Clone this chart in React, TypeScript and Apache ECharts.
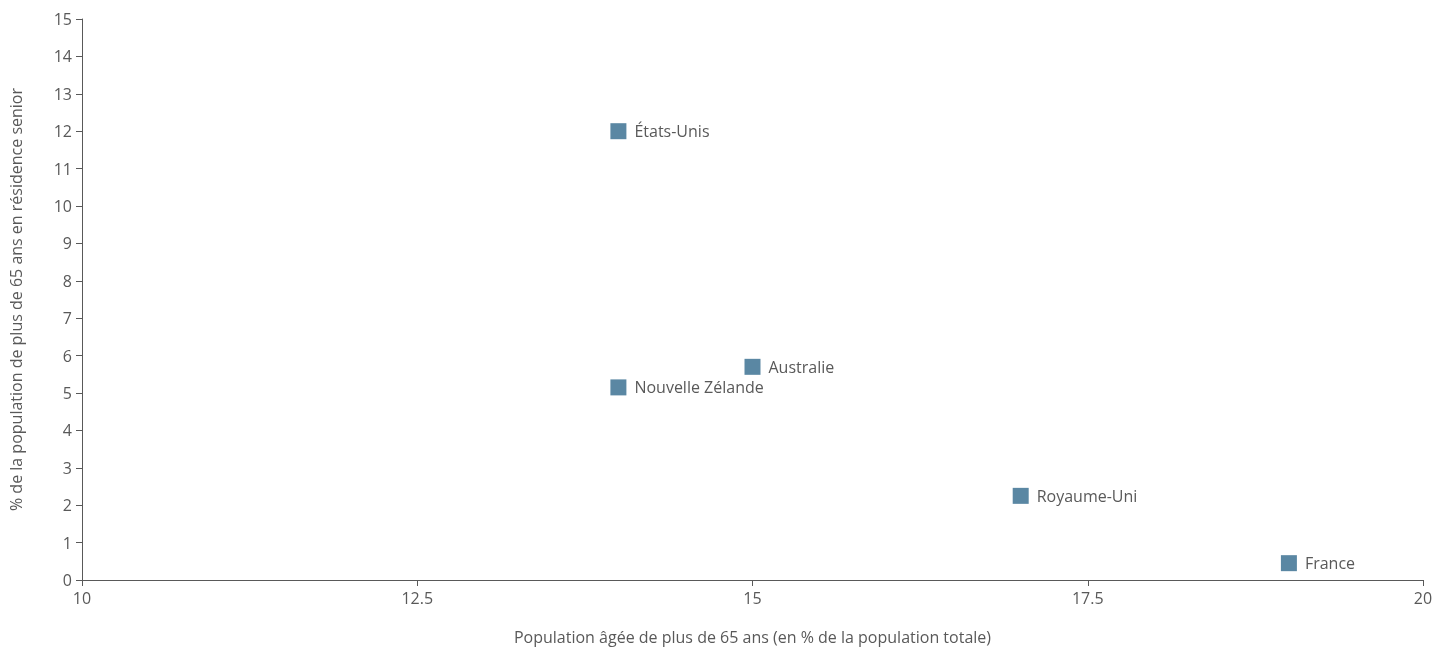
import React, { useEffect, useRef } from "react";
import * as echarts from "echarts";

const countries = ["États-Unis", "Australie", "Nouvelle Zélande", "Royaume-Uni", "France"];
const elderlyShare = [14.0, 15.0, 14.0, 17.0, 19.0];
const seniorResidence = [12.0, 5.7, 5.15, 2.25, 0.45];

const xTitle = "Population âgée de plus de 65 ans (en % de la population totale)";
const yTitle = "% de la population de plus de 65 ans en résidence senior";

export default function App() {
  const ref = useRef<HTMLDivElement>(null);
  useEffect(() => {
    if (!ref.current) return;
    const chart = echarts.init(ref.current, null, { renderer: "svg" });
    const font = "'Open Sans', 'Noto Sans', sans-serif";
    const textColor = "#595959";
    const axisColor = "#595959";
    chart.setOption({
      animation: false,
      grid: { left: 82, right: 25, top: 19, bottom: 70 },
      xAxis: {
        type: "value",
        min: 10,
        max: 20,
        interval: 2.5,
        name: xTitle,
        nameLocation: "middle",
        nameGap: 49,
        nameTextStyle: { color: textColor, fontSize: 16, fontFamily: font },
        axisLine: { lineStyle: { color: axisColor, width: 1 } },
        axisTick: { show: true, length: 6, lineStyle: { color: axisColor } },
        axisLabel: { color: textColor, fontSize: 16, fontFamily: font, margin: 10 },
        splitLine: { show: false },
      },
      yAxis: {
        type: "value",
        min: 0,
        max: 15,
        interval: 1,
        name: yTitle,
        nameLocation: "middle",
        nameGap: 58,
        nameRotate: 90,
        nameTextStyle: { color: textColor, fontSize: 16, fontFamily: font },
        axisLine: { show: true, lineStyle: { color: axisColor, width: 1 } },
        axisTick: { show: true, length: 6, lineStyle: { color: axisColor } },
        axisLabel: { color: textColor, fontSize: 16, fontFamily: font, margin: 10 },
        splitLine: { show: false },
      },
      series: [
        {
          type: "scatter",
          symbol: "rect",
          symbolSize: 16,
          itemStyle: { color: "#5a87a3", opacity: 1 },
          data: countries.map((c, i) => ({ name: c, value: [elderlyShare[i], seniorResidence[i]] })),
          label: {
            show: true,
            position: "right",
            distance: 8,
            formatter: (p: any) => p.name,
            color: textColor,
            fontSize: 16,
            fontFamily: font,
          },
        },
      ],
    });
    return () => chart.dispose();
  }, []);
  return <div ref={ref} style={{ position: "fixed", left: 0, top: 0, width: 1448, height: 650 }} />;
}
